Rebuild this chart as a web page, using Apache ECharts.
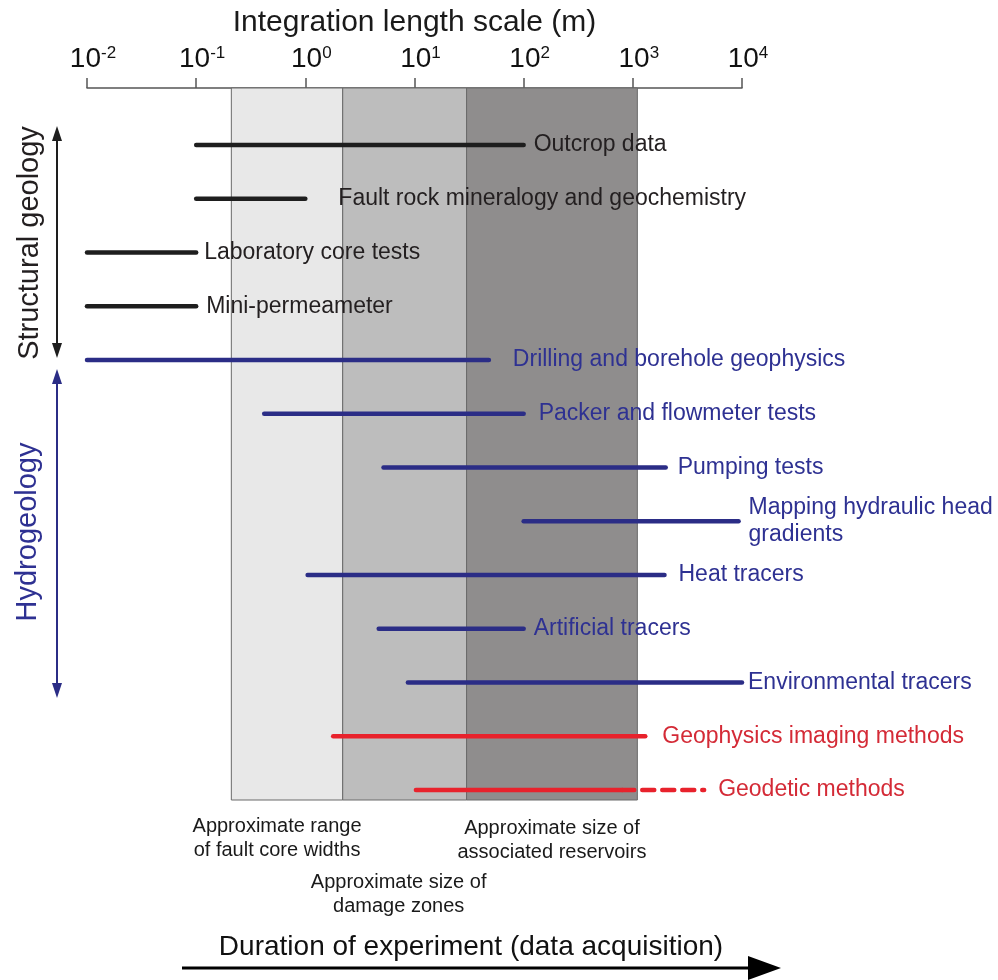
<!DOCTYPE html>
<html>
<head>
<meta charset="utf-8">
<title>Integration length scale</title>
<script src="https://cdn.jsdelivr.net/npm/echarts@6/dist/echarts.min.js"></script>
<style>
  html, body { margin: 0; padding: 0; background: #fff; }
  #main { width: 998px; height: 980px; }
</style>
</head>
<body>
<div id="main"></div>
<script>
  // methods, top to bottom, with the length range (m) each one covers
  const methods = [
    'Outcrop data',
    'Fault rock mineralogy and geochemistry',
    'Laboratory core tests',
    'Mini-permeameter',
    'Drilling and borehole geophysics',
    'Packer and flowmeter tests',
    'Pumping tests',
    'Mapping hydraulic head\ngradients',
    'Heat tracers',
    'Artificial tracers',
    'Environmental tracers',
    'Geophysics imaging methods',
    'Geodetic methods'
  ]
  const rangeFrom = [0.1, 0.1, 0.01, 0.01, 0.01, 0.42, 5.2, 100, 1.05, 4.7, 8.7, 1.8, 10.3]
  const rangeTo = [100, 1, 0.1, 0.1, 48, 100, 2000, 9300, 1950, 100, 10000, 1300, 800]
  // dashed (uncertain) extension of a range
  const uncertainTo = [null, null, null, null, null, null, null, null, null, null, null, null, 4500]
  const discipline = ['structural', 'structural', 'structural', 'structural',
    'hydro', 'hydro', 'hydro', 'hydro', 'hydro', 'hydro', 'hydro', 'geophys', 'geophys']

  // shaded size bands
  const zoneNames = ['Approximate range\nof fault core widths', 'Approximate size of\ndamage zones', 'Approximate size of\nassociated reservoirs']
  const zoneFrom = [0.21, 2.2, 30]
  const zoneTo = [2.2, 30, 1100]

  // styles
  const lineColor = { structural: '#1e1e1e', hydro: '#2b2d86', geophys: '#e8222c' }
  const textColor = { structural: '#231f20', hydro: '#2e3192', geophys: '#d42a36' }
  const labelGap = [10, 33, 8, 10, 24, 15, 12, 10, 14, 10, 6, 17, 14]
  const zoneColor = ['#e8e8e8', '#bdbdbd', '#8f8d8d']
  const zoneLabelDist = [14, 70, 16]
  const zoneLabelShift = [-10, -6, 0]
  const font = '"Liberation Sans", Arial, sans-serif'

  const chart = echarts.init(document.getElementById('main'))

  let series = []
  series.push({
    name: 'zones',
    type: 'line',
    data: [],
    z: 1,
    silent: true,
    markArea: {
      silent: true,
      data: zoneNames.map((n, i) => [
        {
          name: n,
          xAxis: zoneFrom[i],
          itemStyle: { color: zoneColor[i], borderColor: '#6a6a6a', borderWidth: 1 },
          label: {
            show: true,
            position: 'bottom',
            distance: zoneLabelDist[i],
            offset: [zoneLabelShift[i], 0],
            color: '#1a1a1a',
            fontFamily: font,
            fontSize: 20,
            lineHeight: 24,
            align: 'center'
          }
        },
        { xAxis: zoneTo[i] }
      ])
    }
  })

  methods.forEach((m, i) => {
    const g = discipline[i]
    const hasExt = uncertainTo[i] != null
    series.push({
      name: m,
      type: 'line',
      z: 3,
      symbol: 'none',
      data: [[rangeFrom[i], i], [rangeTo[i], i]],
      lineStyle: { color: lineColor[g], width: 4.5, cap: 'round' },
      endLabel: {
        show: !hasExt,
        formatter: m,
        distance: labelGap[i],
        color: textColor[g],
        fontFamily: font,
        fontSize: 23,
        lineHeight: 27
      }
    })
    if (hasExt) {
      series.push({
        name: m + ' (uncertain)',
        type: 'line',
        z: 3,
        symbol: 'none',
        data: [[rangeTo[i], i], [uncertainTo[i], i]],
        lineStyle: { color: lineColor[g], width: 4.5, type: [12, 8], cap: 'round' },
        endLabel: {
          show: true,
          formatter: m,
          distance: labelGap[i],
          color: textColor[g],
          fontFamily: font,
          fontSize: 23
        }
      })
    }
  })

  // row spacing in px, used to map rows into the 88..800 band
  const rowPx = (790 - 145) / 12

  const option = {
    animation: false,
    backgroundColor: '#fff',
    grid: { left: 87, right: 256, top: 88, bottom: 180, outerBoundsMode: 'none' },
    xAxis: {
      type: 'log',
      logBase: 10,
      position: 'top',
      min: 0.01,
      max: 10000,
      splitNumber: 6,
      name: 'Integration length scale (m)',
      nameLocation: 'middle',
      nameGap: 50,
      nameTextStyle: { fontFamily: font, fontSize: 30, color: '#1a1a1a' },
      axisLine: { show: true, onZero: false, lineStyle: { color: '#555', width: 1.5 } },
      axisTick: { show: true, length: 10, lineStyle: { color: '#555', width: 1.5 } },
      minorTick: { show: false },
      splitLine: { show: false },
      axisLabel: {
        margin: 15,
        showMinLabel: true,
        showMaxLabel: true,
        formatter: v => '{b|10}{s|' + Math.round(Math.log10(v)) + '}',
        rich: {
          b: { fontFamily: font, fontSize: 28, color: '#111', verticalAlign: 'bottom', padding: [0, 0, 0, 12] },
          s: { fontFamily: font, fontSize: 17, color: '#111', verticalAlign: 'top' }
        }
      }
    },
    yAxis: {
      type: 'value',
      show: false,
      inverse: true,
      min: -(145 - 88) / rowPx,
      max: 12 + (800 - 790) / rowPx
    },
    graphic: [
      // Structural geology
      {
        type: 'text', x: 30, y: 243, rotation: Math.PI / 2,
        style: { text: 'Structural geology', fill: '#231f20', font: '29px ' + font, textAlign: 'center', textVerticalAlign: 'middle' }
      },
      { type: 'line', shape: { x1: 57, y1: 138, x2: 57, y2: 346 }, style: { stroke: '#1e1e1e', lineWidth: 2 } },
      { type: 'polygon', shape: { points: [[57, 126], [52, 141], [62, 141]] }, style: { fill: '#1e1e1e' } },
      { type: 'polygon', shape: { points: [[57, 358], [52, 343], [62, 343]] }, style: { fill: '#1e1e1e' } },
      // Hydrogeology
      {
        type: 'text', x: 28, y: 532, rotation: Math.PI / 2,
        style: { text: 'Hydrogeology', fill: '#2e3192', font: '29px ' + font, textAlign: 'center', textVerticalAlign: 'middle' }
      },
      { type: 'line', shape: { x1: 57, y1: 381, x2: 57, y2: 686 }, style: { stroke: '#2b2d86', lineWidth: 2 } },
      { type: 'polygon', shape: { points: [[57, 369], [52, 384], [62, 384]] }, style: { fill: '#2b2d86' } },
      { type: 'polygon', shape: { points: [[57, 698], [52, 683], [62, 683]] }, style: { fill: '#2b2d86' } },
      // duration arrow
      {
        type: 'text', x: 471, y: 947,
        style: { text: 'Duration of experiment (data acquisition)', fill: '#111', font: '28px ' + font, textAlign: 'center', textVerticalAlign: 'middle' }
      },
      { type: 'line', shape: { x1: 182, y1: 968, x2: 752, y2: 968 }, style: { stroke: '#000', lineWidth: 3 } },
      { type: 'polygon', shape: { points: [[781, 968], [748, 956], [748, 980]] }, style: { fill: '#000' } }
    ],
    series: series
  }

  chart.setOption(option)
  window.addEventListener('resize', () => {
    chart.resize()
  })
</script>
</body>
</html>
